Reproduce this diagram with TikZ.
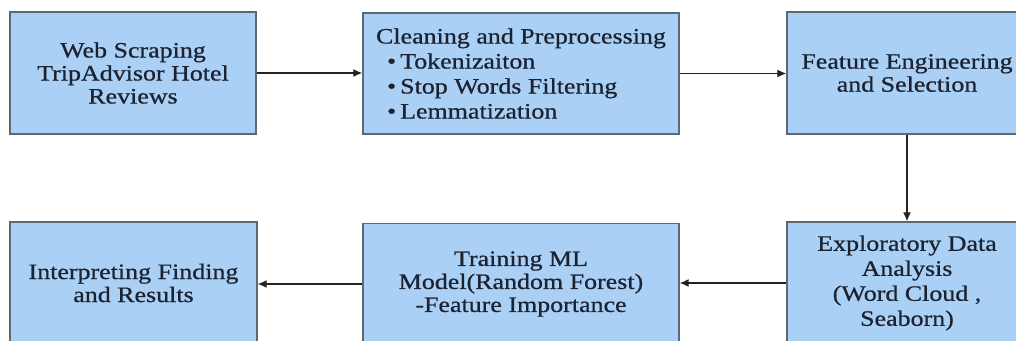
\documentclass[tikz,border=0pt]{standalone}
\usepackage{fontspec}
\setmainfont[FakeStretch=1.18,FakeBold=0.7]{Liberation Serif}
\usetikzlibrary{arrows.meta}
\definecolor{boxfill}{RGB}{170,209,245}
\definecolor{boxline}{RGB}{92,104,114}
\definecolor{txt}{RGB}{28,34,48}
\definecolor{arrcol}{RGB}{35,35,35}
\tikzset{
  stepbox/.style={draw=boxline, line width=1.4pt, fill=boxfill, text=txt,
    minimum height=122pt, inner sep=4pt, align=center,
    font=\fontsize{22pt}{23pt}\selectfont},
  flowarrow/.style={draw=arrcol, line width=1.3pt, -{Latex[length=9pt,width=8pt]}}
}
\begin{document}
\begin{tikzpicture}[x=1pt,y=-1pt]
\clip (0,0) rectangle (1016,340);
\fill[white] (0,0) rectangle (1016,340);
\node[stepbox, minimum width=246pt] (web) at (133,73)
  {Web Scraping\\TripAdvisor Hotel\\Reviews};
\node[stepbox, minimum width=316pt, minimum height=121pt, align=left,
  font=\fontsize{22pt}{25pt}\selectfont] (clean) at (521,73.5)
  {Cleaning and Preprocessing\\
   \hspace*{11pt}\textbullet\hspace{4pt}Tokenizaiton\\
   \hspace*{11pt}\textbullet\hspace{4pt}Stop Words Filtering\\
   \hspace*{11pt}\textbullet\hspace{4pt}Lemmatization};
\node[stepbox, minimum width=240pt] (feat) at (907,73)
  {Feature Engineering\\and Selection};
\node[stepbox, minimum width=240pt, font=\fontsize{22pt}{25pt}\selectfont] (eda) at (907,283)
  {Exploratory Data\\Analysis\\(Word Cloud ,\\Seaborn)};
\node[stepbox, minimum width=316pt, minimum height=121pt] (train) at (521,284)
  {Training ML\\Model(Random Forest)\\-Feature Importance};
\node[stepbox, minimum width=247pt] (interp) at (133.5,283)
  {Interpreting Finding\\and Results};
\draw[flowarrow] (web.east) -- (web.east -| clean.west);
\draw[flowarrow] (clean.east) -- (clean.east -| feat.west);
\draw[flowarrow] (feat.south) -- (eda.north);
\draw[flowarrow] (eda.west) -- (eda.west -| train.east);
\draw[flowarrow] (train.west) -- (train.west -| interp.east);
\end{tikzpicture}
\end{document}
